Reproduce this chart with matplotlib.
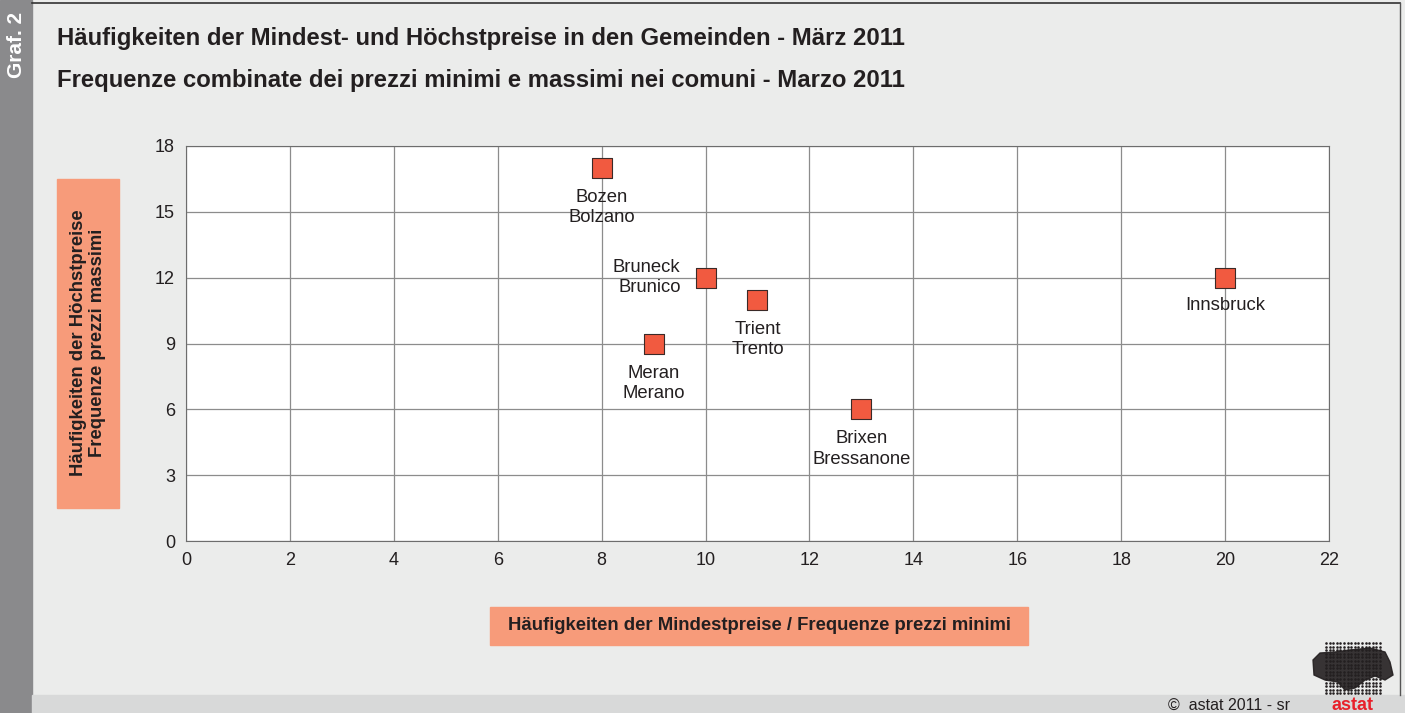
import numpy as np
import matplotlib.pyplot as plt
from matplotlib.patches import Rectangle, Polygon

plt.rcParams['font.family'] = ['Liberation Sans', 'DejaVu Sans']

# === Données ===
towns = ["Bozen\nBolzano", "Bruneck\nBrunico", "Trient\nTrento",
         "Meran\nMerano", "Brixen\nBressanone", "Innsbruck"]
min_freq = [8, 10, 11, 9, 13, 20]
max_freq = [17, 12, 11, 9, 6, 12]
x_ticks = list(range(0, 23, 2))
y_ticks = list(range(0, 19, 3))

title_de = "Häufigkeiten der Mindest- und Höchstpreise in den Gemeinden - März 2011"
title_it = "Frequenze combinate dei prezzi minimi e massimi nei comuni - Marzo 2011"
xlabel = "Häufigkeiten der Mindestpreise / Frequenze prezzi minimi"
ylabel = "Häufigkeiten der Höchstpreise\nFrequenze prezzi massimi"

W, H = 1405, 713
fig = plt.figure(figsize=(W / 100, H / 100), dpi=100)
fig.patch.set_facecolor("#ebeceb")

def px(x0, y0, x1, y1):
    # boîte en pixels -> fraction de figure
    return [x0 / W, 1 - y1 / H, (x1 - x0) / W, (y1 - y0) / H]

# fond / bandeaux
bg = fig.add_axes([0, 0, 1, 1])
bg.set_xlim(0, W)
bg.set_ylim(H, 0)
bg.axis("off")
bg.add_patch(Rectangle((0, 0), 32, H, color="#8a8a8c"))
bg.add_patch(Rectangle((32, 695), W - 32, H - 695, color="#d8d9d9"))
bg.plot([32, 1400], [3, 3], color="#333333", lw=1.2)
bg.plot([1400, 1400], [3, 695], color="#555555", lw=1)
bg.text(16, 45, "Graf. 2", rotation=90, ha="center", va="center",
        color="white", fontsize=15, fontweight="bold")
bg.text(57, 38, title_de, fontsize=17.2, fontweight="bold", color="#231f20", va="center")
bg.text(57, 80, title_it, fontsize=17.2, fontweight="bold", color="#231f20", va="center")

# boîtes des titres d'axes
bg.add_patch(Rectangle((57, 179), 62, 329, color="#f79b7a"))
bg.text(88, 343, ylabel, rotation=90, ha="center", va="center",
        fontsize=13.3, fontweight="bold", color="#231f20", linespacing=1.1)
bg.add_patch(Rectangle((490, 607), 538, 38, color="#f79b7a"))
bg.text(759, 626, xlabel, ha="center", va="center",
        fontsize=13.3, fontweight="bold", color="#231f20")

# copyright + logo
bg.text(1168, 705, "©  astat 2011 - sr", fontsize=11.5, color="#231f20", va="center")
blob = [(1313, 660), (1320, 653), (1335, 652), (1350, 650), (1370, 648),
        (1385, 652), (1390, 662), (1393, 675), (1385, 680), (1375, 676),
        (1365, 680), (1355, 688), (1345, 690), (1338, 682), (1325, 680),
        (1314, 675)]
gx, gy = np.meshgrid(np.arange(1326, 1381, 3.6), np.arange(643, 696, 3.6))
bg.scatter(gx.ravel(), gy.ravel(), s=3.5, color="#231f20", lw=0)
bg.add_patch(Polygon(blob, closed=True, color="#231f20", alpha=0.9))
bg.text(1352, 705, "astat", fontsize=13, fontweight="bold", color="#e8202a",
        ha="center", va="center")

# === Graphique ===
ax = fig.add_axes(px(186, 146, 1329, 541))
ax.set_facecolor("white")
ax.scatter(min_freq, max_freq, marker="s", s=220, color="#f15a40",
           edgecolor="#3a2a28", linewidth=0.8, zorder=5, clip_on=False)

offsets = {
    "Bozen\nBolzano": (0, -21, "center", "top"),
    "Bruneck\nBrunico": (-25, 0, "right", "center"),
    "Trient\nTrento": (0, -21, "center", "top"),
    "Meran\nMerano": (0, -21, "center", "top"),
    "Brixen\nBressanone": (0, -21, "center", "top"),
    "Innsbruck": (0, -19, "center", "top"),
}
for name, x, y in zip(towns, min_freq, max_freq):
    dx, dy, ha, va = offsets[name]
    ax.annotate(name, (x, y), xytext=(dx, dy), textcoords="offset pixels",
                ha=ha, va=va, fontsize=13.3, color="#231f20", linespacing=1.25)

ax.set_xlim(0, 22)
ax.set_ylim(0, 18)
ax.set_xticks(x_ticks)
ax.set_yticks(y_ticks)
ax.grid(True, color="#8c8c8c", lw=0.9)
ax.set_axisbelow(True)
for s in ax.spines.values():
    s.set_color("#6d6d6d")
ax.tick_params(length=0, labelsize=13, colors="#231f20", pad=8)

plt.savefig("out.png", dpi=100, facecolor=fig.get_facecolor())
